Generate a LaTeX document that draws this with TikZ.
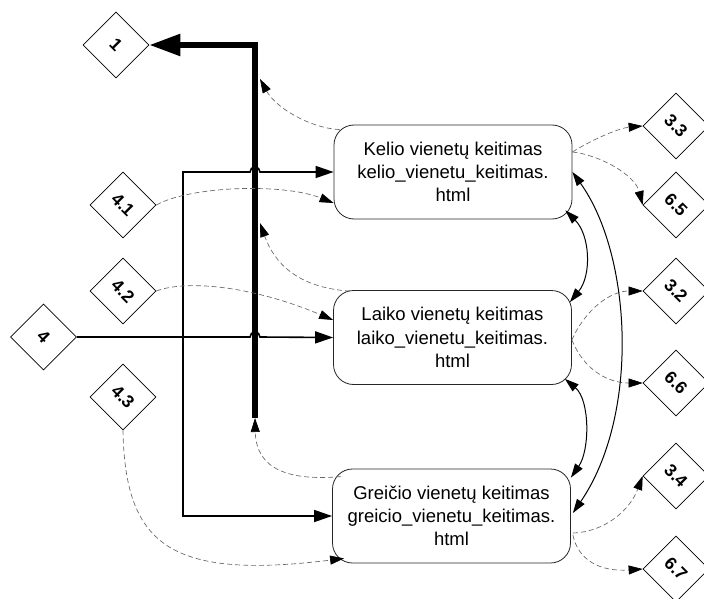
\documentclass[tikz,border=0pt]{standalone}
\usepackage{fontspec}
\setmainfont{Liberation Sans}
\usetikzlibrary{arrows.meta,shapes.geometric}

\newcommand{\boxfont}{\fontsize{18.5}{23.2}\selectfont}
\newcommand{\reffont}{\fontsize{17.5}{19}\selectfont\bfseries}
\newcommand{\refnum}[1]{\rotatebox{-45}{#1}}

\tikzset{
  pagebox/.style={draw=black!85, line width=0.8pt, rounded corners=20pt,
    minimum width=238pt, minimum height=94pt, align=center, inner sep=0pt,
    font=\boxfont},
  refnode/.style={diamond, draw, line width=0.7pt, minimum width=66pt,
    minimum height=66pt, inner sep=0pt, aspect=1, font=\reffont},
  flow/.style={draw, line width=1.6pt, line join=miter,
    -{Triangle[length=18pt,width=12pt]}},
  link/.style={draw=black!60, line width=0.65pt, dash pattern=on 5pt off 3pt,
    -{Triangle[length=14pt,width=9pt,color=black]}},
  mutual/.style={draw, line width=1pt,
    {Triangle[length=14pt,width=9pt]}-{Triangle[length=14pt,width=9pt]}},
  trunk/.style={draw, line width=5.5pt, line join=miter,
    -{Triangle[length=31pt,width=21pt]}},
}

\begin{document}
\begin{tikzpicture}[x=1pt, y=-1pt]
\clip (0,0) rectangle (704,599);
\fill[white] (0,0) rectangle (704,599);

% page nodes
\node[pagebox] (kelio)   at (453,172) {Kelio vienetų keitimas\\kelio\_vienetu\_keitimas.\\html};
\node[pagebox] (laiko)   at (452.5,337.5) {Laiko vienetų keitimas\\laiko\_vienetu\_keitimas.\\html};
\node[pagebox] (greicio) at (451.5,516) {Greičio vienetų keitimas\\greicio\_vienetu\_keitimas.\\html};

% reference diamonds
\node[refnode] (d1)  at (116,45)  {\refnum{1}};
\node[refnode] (d41) at (123,205) {\refnum{4.1}};
\node[refnode] (d42) at (123,291) {\refnum{4.2}};
\node[refnode] (d4)  at (43.5,337) {\refnum{4}};
\node[refnode] (d43) at (123,397) {\refnum{4.3}};
\node[refnode] (d33) at (676,126) {\refnum{3.3}};
\node[refnode] (d65) at (676,205) {\refnum{6.5}};
\node[refnode] (d32) at (676,291) {\refnum{3.2}};
\node[refnode] (d66) at (676,383) {\refnum{6.6}};
\node[refnode] (d34) at (676,476) {\refnum{3.4}};
\node[refnode] (d67) at (676,569) {\refnum{6.7}};

% return trunk to page 1
\coordinate (tb) at (255,418);
\coordinate (tt) at (255,45);
\coordinate (t1) at (260,79);
\coordinate (t2) at (260,223);
\draw[trunk] (tb) -- (tt) -- (d1.east);

% entry from 4 with its branches
\coordinate (j) at (183,337);
\coordinate (hopK) at (255,172);
\coordinate (hopL) at (255,337);
\draw[flow] (d4.east) -- ([shift={(-5,0)}]hopL) arc[start angle=180, end angle=360, radius=5] -- (laiko.west);
\draw[flow] (j) |- ([shift={(-5,0)}]hopK) arc[start angle=180, end angle=360, radius=5] -- (kelio.west);
\draw[flow] (j) |- (greicio.west);

% links back to the trunk
\draw[link] ([shift={(6,5)}]kelio.north west) .. controls (310,128) and (276,108) .. (t1);
\draw[link] ([shift={(17,1)}]laiko.north west) .. controls (300,288) and (275,265) .. (t2);
\draw[link] ([shift={(9,8)}]greicio.north west) .. controls (290,481) and (256,470) .. (tb);

% links from the sub-references
\draw[link] (d41.east) .. controls (190,186) and (283,183) .. ([shift={(0,31)}]kelio.west);
\draw[link] (d42.east) .. controls (185,280) and (250,285) .. ([shift={(0,-17.5)}]laiko.west);
\draw[link] (d43.south) .. controls (125,545) and (170,580) .. ([shift={(12,-5)}]greicio.south west);

% outgoing links
\draw[link] ([shift={(0,-20)}]kelio.east) .. controls (595,138) and (620,128) .. (d33.west);
\draw[link] ([shift={(0,-20)}]kelio.east) .. controls (600,155) and (635,175) .. (d65.west);
\draw[link] ([shift={(0,2.5)}]laiko.east) .. controls (585,310) and (610,291) .. (d32.west);
\draw[link] ([shift={(0,2.5)}]laiko.east) .. controls (585,372) and (610,383) .. (d66.west);
\draw[link] ([shift={(2,17)}]greicio.east) .. controls (605,532) and (630,510) .. (d34.west);
\draw[link] ([shift={(2,19)}]greicio.east) .. controls (578,560) and (600,572) .. (d67.west);

% mutual links between pages
\draw[mutual] ([shift={(-7,-9)}]kelio.south east) .. controls (590,235) and (592,275) .. ([shift={(-2,12)}]laiko.north east);
\draw[mutual] ([shift={(-7,-6)}]laiko.south east) .. controls (590,400) and (590,450) .. ([shift={(0,9)}]greicio.north east);
\draw[mutual] (kelio.east) .. controls (632,255) and (640,415) .. ([shift={(2,-3)}]greicio.east);
\end{tikzpicture}
\end{document}
